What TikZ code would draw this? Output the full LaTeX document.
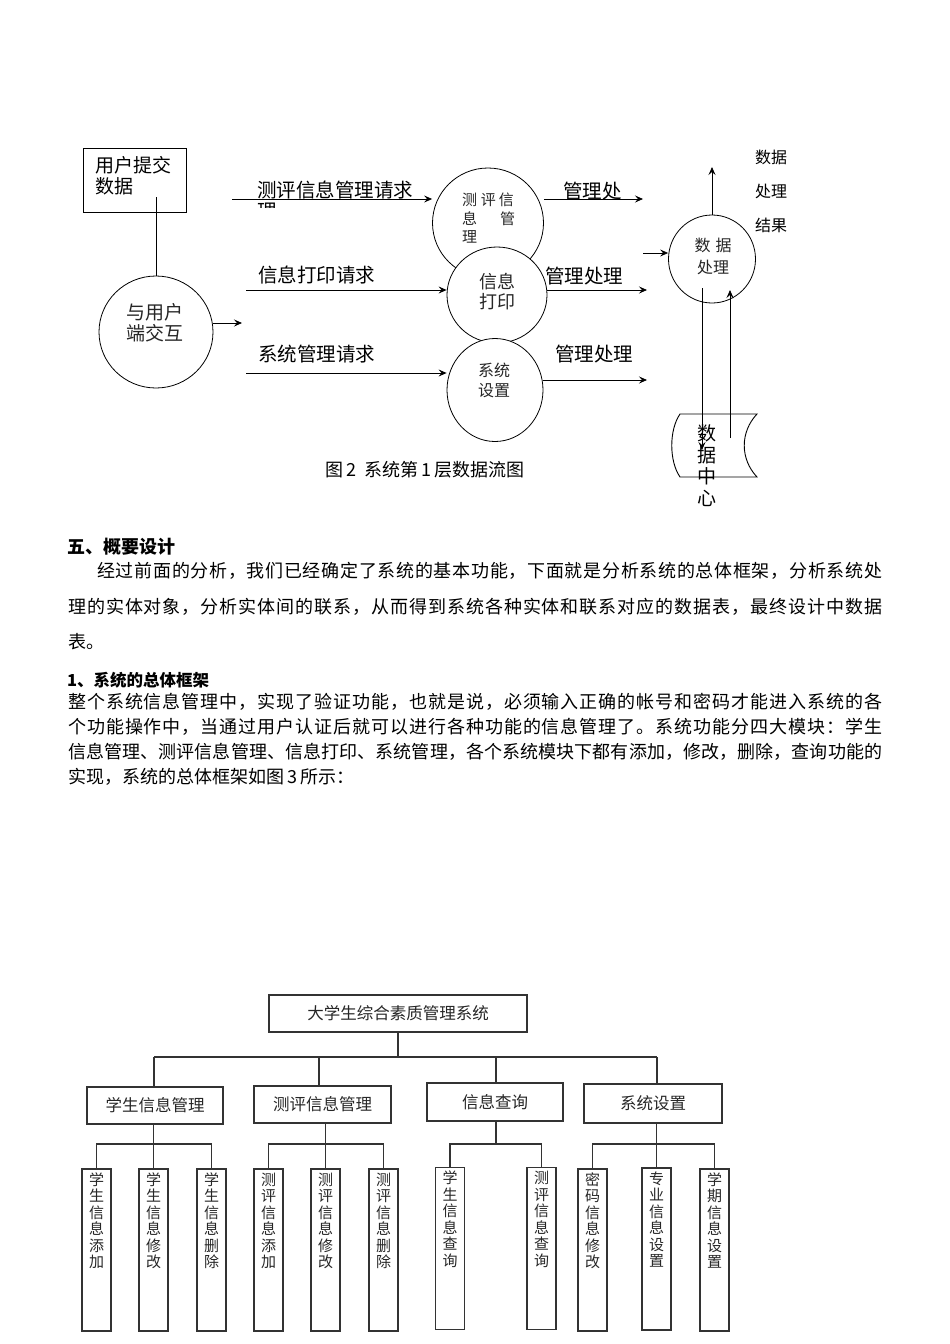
\documentclass[tikz,border=0pt]{standalone}
\usepackage{fontspec}
\setmainfont{Noto Sans CJK SC}
\usetikzlibrary{arrows.meta,shapes.geometric}
\newcommand\setfs[1]{\fontsize{#1}{#1}\selectfont}
\newcommand\spread[1]{\spreadaux#1\relax\unskip}
\def\spreadaux#1{\ifx\relax#1\else#1\hskip 0pt plus 1fil\expandafter\spreadaux\fi}
\newcommand\jline[4]{\node[anchor=west,inner sep=0] at (#1,#2) {\hbox to #3pt{\setfs{18}\spread{#4}}};}
\newcommand\pline[3]{\node[anchor=west,inner sep=0] at (#1,#2) {\setfs{18}#3};}
\tikzset{
  ln/.style={line width=0.8pt},
  arr/.style={line width=0.8pt,-{Stealth[length=8pt,width=7pt,inset=3pt]}},
  proc/.style={ellipse,draw,line width=0.8pt,fill=white,inner sep=0},
  lbl/.style={inner sep=0,anchor=west,font=\setfs{19.5}},
  ctxt/.style={inner sep=0,align=center,text=black!85},
  tline/.style={draw=black!80,line width=1.1pt},
  tbox/.style={draw=black!80,line width=1.1pt,inner sep=0,text=black!85},
  leaf/.style={draw=black!80,line width=1.1pt,inner sep=0,minimum width=29pt,minimum height=162pt},
  lt/.style={inner sep=0,align=center,font=\fontsize{15}{16.5}\selectfont,text=black!85},
}
\newcommand\leafnode[4]{\node[leaf] (#1) at (#2,#3) {};
  \node[lt,anchor=north] at ([yshift=-4pt]#1.north) {#4};}
\begin{document}
\begin{tikzpicture}[x=1pt,y=-1pt]
\useasboundingbox (0,0) rectangle (950,1344);
% ---------- data flow diagram ----------
\node[draw,line width=0.8pt,minimum width=103pt,minimum height=64pt,anchor=north west,inner sep=0] (ub) at (83,148) {};
\node[inner sep=0,anchor=north west,align=left,font=\fontsize{19}{21}\selectfont] (ubt) at (95,156) {用户提交\\数据};
\node[proc,minimum width=114pt,minimum height=112pt] (uc) at (156,332) {};
\node[ctxt,font=\fontsize{19}{21}\selectfont] (uct) at (155,322.5) {与用户\\端交互};
\coordinate (ubl) at (156,197);
\draw[ln] (ubl) -- (uc.north);
\coordinate (o0) at (242,323);
\draw[arr] (uc.east |- o0) -- (o0);

% request lines
\coordinate (s1) at (232,199);
\coordinate (s2) at (246,290);
\coordinate (s3) at (246,373);
\node[lbl] (l1) at (257,190.5) {测评信息管理请求};
\begin{scope}
\clip (250,200) rectangle (290,207.5);
\node[inner sep=0,anchor=north west,font=\setfs{19.5}] (l1b) at (257,203) {理};
\end{scope}
\node[lbl] (l2) at (258,275) {信息打印请求};
\node[lbl] (l3) at (258,354) {系统管理请求};

% process circles
\node[proc,minimum width=111pt,minimum height=110pt] (cA) at (488,223) {};
\node[proc,minimum width=100pt,minimum height=96pt] (cB) at (497,295) {};
\node[proc,minimum width=96pt,minimum height=103pt] (cC) at (495,390) {};
\node[inner sep=0,align=left,text=black!85,font=\fontsize{15}{18.5}\selectfont] (cAt) at (488.5,218.5) {测\hspace{4pt}评\hspace{3pt}信\\息\hspace{23pt}管\\理};
\node[ctxt,font=\fontsize{18}{20}\selectfont] (cBt) at (497,292) {信息\\打印};
\node[ctxt,font=\fontsize{16}{20}\selectfont] (cCt) at (494,380) {系统\\设置};

\draw[arr] (s1) -- (cA.west |- s1);
\draw[arr] (s2) -- (cB.west |- s2);
\draw[arr] (s3) -- (cC.west |- s3);

% outputs
\coordinate (t1) at (643,199);
\coordinate (t2) at (647,290);
\coordinate (t3) at (647,380);
\draw[arr] (cA.east |- t1) -- (t1);
\draw[arr] (cB.east |- t2) -- (t2);
\draw[arr] (cC.east |- t3) -- (t3);
\node[lbl] (m1l) at (563,191) {管理处};
\node[lbl] (m2l) at (545,276) {管理处理};
\node[lbl] (m3l) at (555,354) {管理处理};

% data processing
\node[proc,minimum width=87pt,minimum height=88pt] (cD) at (712,259) {};
\node[ctxt,font=\fontsize{16}{22}\selectfont] (cDt) at (713,256) {数\hspace{5pt}据\\处理};
\coordinate (di) at (643,253);
\draw[arr] (di) -- (cD.west |- di);
\coordinate (du) at (712,167);
\draw[arr] (cD.north) -- (du);
\node[inner sep=0,align=left,font=\fontsize{16}{34}\selectfont] (res) at (771,191) {数据\\处理\\结果};

% data store
\draw[line width=0.9pt] (680,414) -- (757,414) .. controls (740,432) and (740,459) .. (757,477) -- (680,477) .. controls (669,461) and (669,430) .. (680,414) -- cycle;
\node[ctxt,text=black,font=\fontsize{19}{21.5}\selectfont] (dc) at (707,465.5) {数\\据\\中\\心};
\coordinate (dd1) at (702,288);
\coordinate (dd2) at (702,450);
\draw[arr] (dd1) -- (dd2);
\coordinate (up1) at (730,438);
\coordinate (up2) at (730,290);
\draw[arr] (up1) -- (up2);

\node[inner sep=0,anchor=west,font=\setfs{18}] (cap) at (325,470) {图\,2\ \ 系统第\,1\,层数据流图};

% ---------- text ----------
\node[inner sep=0,anchor=west,font=\bfseries\setfs{18}] (h1) at (67,547) {五、概要设计};
\jline{97}{571}{785}{经过前面的分析，我们已经确定了系统的基本功能，下面就是分析系统的总体框架，分析系统处}
\jline{68}{607}{814}{理的实体对象，分析实体间的联系，从而得到系统各种实体和联系对应的数据表，最终设计中数据}
\pline{68}{642}{表。}
\node[inner sep=0,anchor=west,font=\bfseries\setfs{16.5}] (h2) at (67,680) {1、系统的总体框架};
\jline{68}{702}{814}{整个系统信息管理中，实现了验证功能，也就是说，必须输入正确的帐号和密码才能进入系统的各}
\jline{68}{727}{814}{个功能操作中，当通过用户认证后就可以进行各种功能的信息管理了。系统功能分四大模块：学生}
\jline{68}{752}{814}{信息管理、测评信息管理、信息打印、系统管理，各个系统模块下都有添加，修改，删除，查询功能的}
\pline{68}{777}{实现，系统的总体框架如图\,3\,所示：}

% ---------- tree ----------
\node[tbox,minimum width=258pt,minimum height=37pt,font=\setfs{16.5}] (root) at (398,1013.5) {大学生综合素质管理系统};
\node[tbox,minimum width=136pt,minimum height=37pt,font=\setfs{16.5}] (m1) at (155,1105.5) {学生信息管理};
\node[tbox,minimum width=137pt,minimum height=37pt,font=\setfs{16.5}] (m2) at (322.5,1104.5) {测评信息管理};
\node[tbox,minimum width=136pt,minimum height=38pt,font=\setfs{16.5}] (m3) at (495,1102) {信息查询};
\node[tbox,minimum width=138pt,minimum height=39pt,font=\setfs{16.5}] (m4) at (653,1103.5) {系统设置};

\coordinate (bus) at (398,1057);
\coordinate (d1) at (154,1057);
\coordinate (d2) at (319,1057);
\coordinate (d3) at (496,1057);
\coordinate (d4) at (657,1057);
\draw[tline] (root.south) -- (bus);
\draw[tline] (d1) -- (d4);
\draw[tline] (d1) -- (d1 |- m1.north);
\draw[tline] (d2) -- (d2 |- m2.north);
\draw[tline] (d3) -- (d3 |- m3.north);
\draw[tline] (d4) -- (d4 |- m4.north);

\leafnode{l11}{96.5}{1250}{学\\生\\信\\息\\添\\加}
\leafnode{l12}{153.5}{1250}{学\\生\\信\\息\\修\\改}
\leafnode{l13}{211.5}{1250}{学\\生\\信\\息\\删\\除}
\leafnode{l21}{268.5}{1250}{测\\评\\信\\息\\添\\加}
\leafnode{l22}{325.5}{1250}{测\\评\\信\\息\\修\\改}
\leafnode{l23}{383.5}{1250}{测\\评\\信\\息\\删\\除}
\leafnode{l31}{450}{1248.5}{学\\生\\信\\息\\查\\询}
\leafnode{l32}{541.5}{1248.5}{测\\评\\信\\息\\查\\询}
\leafnode{l41}{592.5}{1250}{密\\码\\信\\息\\修\\改}
\leafnode{l42}{656.5}{1249}{专\\业\\信\\息\\设\\置}
\leafnode{l43}{714.5}{1250}{学\\期\\信\\息\\设\\置}

\coordinate (r1) at (0,1144);
\draw[tline] (l12.north |- m1.south) -- (l12.north);
\draw[tline] (l11.north) -- (l11.north |- r1) -- (l13.north |- r1) -- (l13.north);
\draw[tline] (l22.north |- m2.south) -- (l22.north);
\draw[tline] (l21.north) -- (l21.north |- r1) -- (l23.north |- r1) -- (l23.north);
\draw[tline] (m3.south -| d3) -- (d3 |- r1);
\draw[tline] (l31.north) -- (l31.north |- r1) -- (l32.north |- r1) -- (l32.north);
\draw[tline] (l42.north |- m4.south) -- (l42.north);
\draw[tline] (l41.north) -- (l41.north |- r1) -- (l43.north |- r1) -- (l43.north);
\end{tikzpicture}
\end{document}
